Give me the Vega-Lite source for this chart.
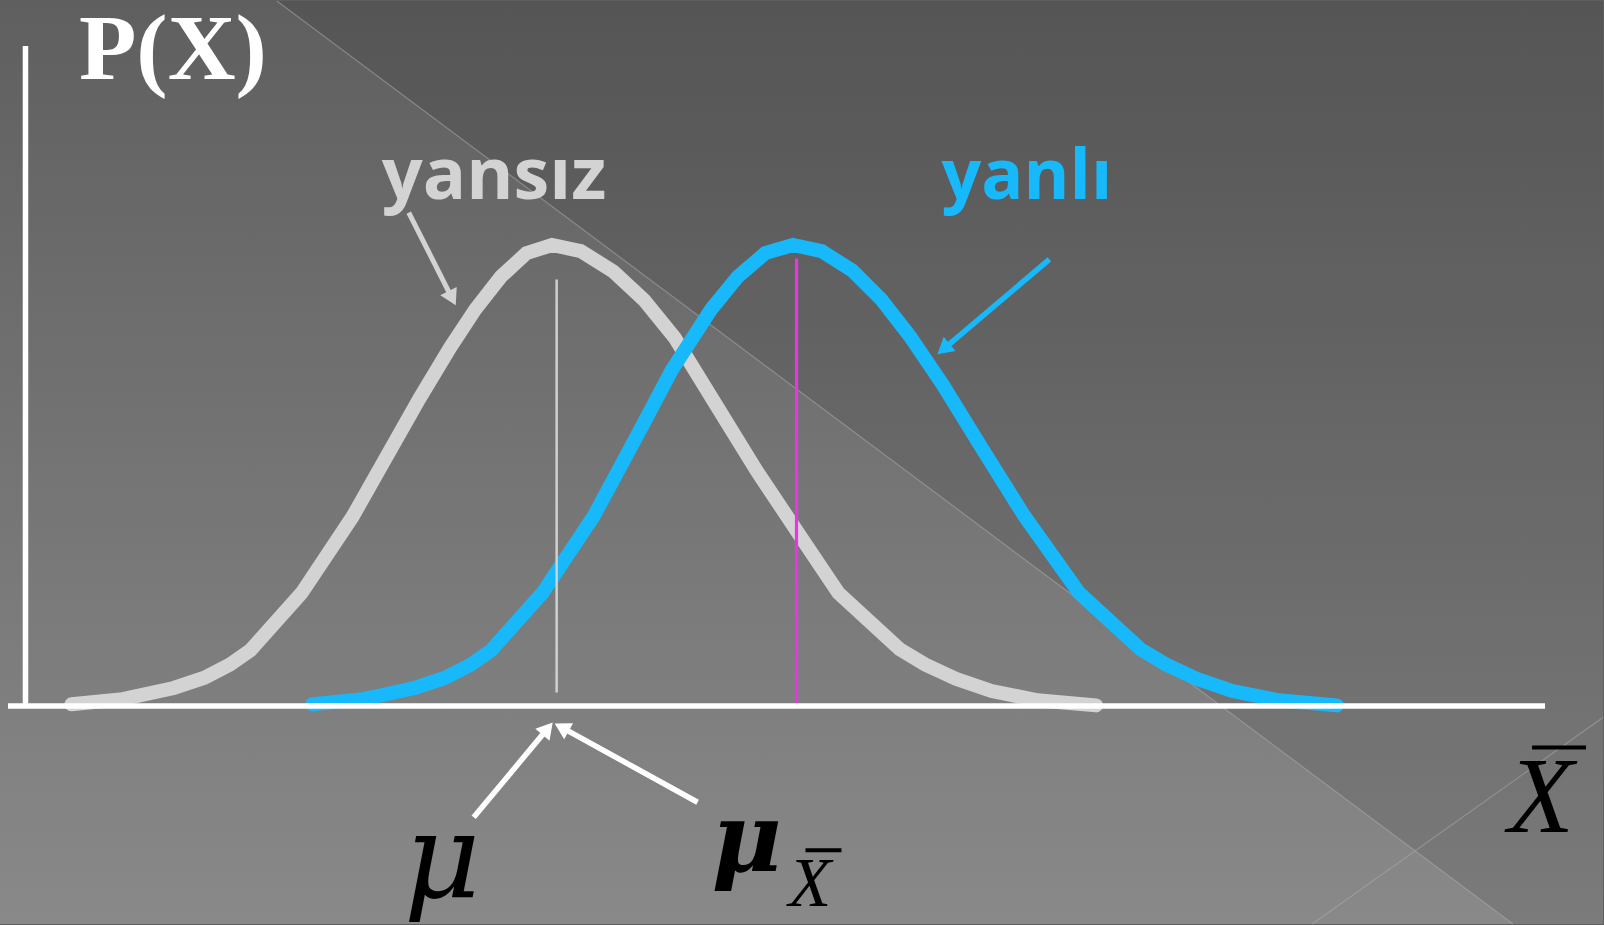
{
 "$schema": "https://vega.github.io/schema/vega-lite/v6.json",
 "width": 1604, "height": 925,
 "autosize": {"type": "fit", "contains": "padding"},
 "padding": 0,
 "background": "#5f5f5f",
 "config": {"view": {"stroke": null}},
 "datasets": {
  "bg": [{"x": 0, "x2": 1604, "y": 0, "y2": 925}],
  "shade": [{"x": 277, "y": 0, "y2": 0}, {"x": 1514, "y": 925, "y2": 0}, {"x": 1604, "y": 925, "y2": 0}],
  "deco": [{"x": 277, "y": 0, "x2": 1514, "y2": 925}, {"x": 1313, "y": 925, "x2": 1604, "y2": 718}],
  "gray": [{"x":71.6,"y":704.8},{"x":122.8,"y":699.7},{"x":173.9,"y":688.5},{"x":204.6,"y":678.2},{"x":230.2,"y":665},{"x":250.6,"y":650.6},{"x":301.8,"y":593.3},{"x":352.9,"y":516.6},{"x":419.4,"y":399},{"x":450.1,"y":347.8},{"x":475.7,"y":308.9},{"x":501.3,"y":276.2},{"x":526.8,"y":252.7},{"x":552.4,"y":244.5},{"x":581.1,"y":250.6},{"x":613.8,"y":271.1},{"x":644.5,"y":299.7},{"x":675.2,"y":337.6},{"x":716.1,"y":404.1},{"x":757,"y":470.6},{"x":797.9,"y":532},{"x":838.9,"y":593.3},{"x":900.2,"y":649.6},{"x":925.8,"y":665},{"x":956.5,"y":679.3},{"x":992.3,"y":691.5},{"x":1038.3,"y":700.8},{"x":1096.7,"y":705.9}],
  "blue": [{"x":312.6,"y":704.8},{"x":363.8,"y":699.7},{"x":414.9,"y":688.5},{"x":445.6,"y":678.2},{"x":471.2,"y":665},{"x":491.6,"y":650.6},{"x":542.8,"y":593.3},{"x":593.9,"y":516.6},{"x":640.4,"y":430},{"x":672.1,"y":370},{"x":711.7,"y":308.9},{"x":738.3,"y":276.2},{"x":765.8,"y":252.7},{"x":793.4,"y":244.5},{"x":822.1,"y":250.6},{"x":852.8,"y":270.1},{"x":881.5,"y":298.7},{"x":910.2,"y":335.6},{"x":943.1,"y":384.1},{"x":984,"y":450.6},{"x":1024.9,"y":516},{"x":1079.9,"y":593.3},{"x":1141.2,"y":649.6},{"x":1166.8,"y":665},{"x":1197.5,"y":679.3},{"x":1233.3,"y":691.5},{"x":1279.3,"y":700.8},{"x":1337.7,"y":705.9}],
  "muline": [{"x": 557, "y": 279, "x2": 557, "y2": 693}],
  "magline": [{"x": 797, "y": 258, "x2": 797, "y2": 705}],
  "axes": [{"x": 25.5, "y": 45, "x2": 25.5, "y2": 706}, {"x": 8, "y": 706.5, "x2": 1546, "y2": 706.5}],
  "grayArrow": [{"x": 409, "y": 212, "x2": 452.4, "y2": 297.9}],
  "grayHead": [{"x": 452.4, "y": 297.9}],
  "blueArrow": [{"x": 1050, "y": 259, "x2": 944.1, "y2": 348.8}],
  "blueHead": [{"x": 944.1, "y": 348.8}],
  "whiteArrows": [{"x": 474, "y": 818, "x2": 547.9, "y2": 729.2}, {"x": 698, "y": 803, "x2": 562, "y2": 727.9}],
  "muHead": [{"x": 547.9, "y": 729.2}],
  "muxHead": [{"x": 562, "y": 727.9}],
  "px": [{"x": 79, "y": 78, "t": "P(X)"}],
  "yansiz": [{"x": 382, "y": 198, "t": "yansız"}],
  "yanli": [{"x": 942, "y": 198, "t": "yanlı"}],
  "mu": [{"x": 404, "y": 898, "t": "μ"}],
  "mux": [{"x": 712, "y": 872, "t": "μ"}],
  "xsub": [{"x": 789, "y": 907, "t": "X"}],
  "xbig": [{"x": 1509, "y": 833, "t": "X"}],
  "bars": [{"x": 806, "y": 851, "x2": 842, "y2": 851}, {"x": 1533, "y": 748, "x2": 1587, "y2": 748}]
 },
 "encoding": {
  "x": {"field": "x", "type": "quantitative", "scale": {"domain": [0, 1604], "nice": false, "zero": false}, "axis": null},
  "y": {"field": "y", "type": "quantitative", "scale": {"domain": [0, 925], "reverse": true, "nice": false, "zero": false}, "axis": null}
 },
 "layer": [
  {"data": {"name": "bg"}, "mark": {"type": "rect", "fill": {"gradient": "linear", "x1": 0, "y1": 0, "x2": 0, "y2": 1, "stops": [{"offset": 0, "color": "#5f5f5f"}, {"offset": 1, "color": "#898989"}]}},
   "encoding": {"x2": {"field": "x2"}, "y2": {"field": "y2"}}},
  {"data": {"name": "shade"}, "mark": {"type": "area", "fill": "#000000", "fillOpacity": 0.1}, "encoding": {"y2": {"field": "y2"}}},
  {"data": {"name": "deco"}, "mark": {"type": "rule", "color": "#b0b0b0", "opacity": 0.5, "strokeWidth": 1.2}, "encoding": {"x2": {"field": "x2"}, "y2": {"field": "y2"}}},
  {"data": {"name": "gray"}, "mark": {"type": "line", "color": "#d3d3d3", "strokeWidth": 14, "strokeCap": "round", "strokeJoin": "miter"}, "encoding": {}},
  {"data": {"name": "blue"}, "mark": {"type": "line", "color": "#17b9fb", "strokeWidth": 14, "strokeCap": "round", "strokeJoin": "miter"}, "encoding": {}},
  {"data": {"name": "muline"}, "mark": {"type": "rule", "color": "#d0d0d0", "strokeWidth": 2.5}, "encoding": {"x2": {"field": "x2"}, "y2": {"field": "y2"}}},
  {"data": {"name": "magline"}, "mark": {"type": "rule", "color": "#e636e6", "strokeWidth": 3.2}, "encoding": {"x2": {"field": "x2"}, "y2": {"field": "y2"}}},
  {"data": {"name": "axes"}, "mark": {"type": "rule", "color": "#ffffff", "strokeWidth": 5.5}, "encoding": {"x2": {"field": "x2"}, "y2": {"field": "y2"}}},
  {"data": {"name": "grayArrow"}, "mark": {"type": "rule", "color": "#d3d3d3", "strokeWidth": 5}, "encoding": {"x2": {"field": "x2"}, "y2": {"field": "y2"}}},
  {"data": {"name": "grayHead"}, "mark": {"type": "point", "shape": "triangle-up", "filled": true, "color": "#d3d3d3", "opacity": 1, "size": 340, "angle": 153}, "encoding": {}},
  {"data": {"name": "blueArrow"}, "mark": {"type": "rule", "color": "#17b9fb", "strokeWidth": 5.5}, "encoding": {"x2": {"field": "x2"}, "y2": {"field": "y2"}}},
  {"data": {"name": "blueHead"}, "mark": {"type": "point", "shape": "triangle-up", "filled": true, "color": "#17b9fb", "opacity": 1, "size": 340, "angle": 230}, "encoding": {}},
  {"data": {"name": "whiteArrows"}, "mark": {"type": "rule", "color": "#ffffff", "strokeWidth": 5.5}, "encoding": {"x2": {"field": "x2"}, "y2": {"field": "y2"}}},
  {"data": {"name": "muHead"}, "mark": {"type": "point", "shape": "triangle-up", "filled": true, "color": "#ffffff", "opacity": 1, "size": 340, "angle": 40}, "encoding": {}},
  {"data": {"name": "muxHead"}, "mark": {"type": "point", "shape": "triangle-up", "filled": true, "color": "#ffffff", "opacity": 1, "size": 340, "angle": 299}, "encoding": {}},
  {"data": {"name": "px"}, "mark": {"type": "text", "font": "Liberation Serif", "fontWeight": "bold", "fontSize": 94, "color": "#ffffff", "align": "left", "baseline": "alphabetic"}, "encoding": {"text": {"field": "t"}}},
  {"data": {"name": "yansiz"}, "mark": {"type": "text", "font": "Open Sans", "fontWeight": "bold", "fontSize": 72, "color": "#d3d3d3", "align": "left", "baseline": "alphabetic"}, "encoding": {"text": {"field": "t"}}},
  {"data": {"name": "yanli"}, "mark": {"type": "text", "font": "Open Sans", "fontWeight": "bold", "fontSize": 70, "color": "#17b9fb", "align": "left", "baseline": "alphabetic"}, "encoding": {"text": {"field": "t"}}},
  {"data": {"name": "mu"}, "mark": {"type": "text", "font": "DejaVu Serif", "fontStyle": "italic", "fontSize": 118, "color": "#000000", "align": "left", "baseline": "alphabetic"}, "encoding": {"text": {"field": "t"}}},
  {"data": {"name": "mux"}, "mark": {"type": "text", "font": "DejaVu Serif", "fontStyle": "italic", "fontWeight": "bold", "fontSize": 96, "color": "#000000", "align": "left", "baseline": "alphabetic"}, "encoding": {"text": {"field": "t"}}},
  {"data": {"name": "xsub"}, "mark": {"type": "text", "font": "Liberation Serif", "fontStyle": "italic", "fontSize": 70, "color": "#000000", "align": "left", "baseline": "alphabetic"}, "encoding": {"text": {"field": "t"}}},
  {"data": {"name": "xbig"}, "mark": {"type": "text", "font": "Liberation Serif", "fontStyle": "italic", "fontSize": 108, "color": "#000000", "align": "left", "baseline": "alphabetic"}, "encoding": {"text": {"field": "t"}}},
  {"data": {"name": "bars"}, "mark": {"type": "rule", "color": "#000000", "strokeWidth": 4}, "encoding": {"x2": {"field": "x2"}, "y2": {"field": "y2"}}}
 ]
}
